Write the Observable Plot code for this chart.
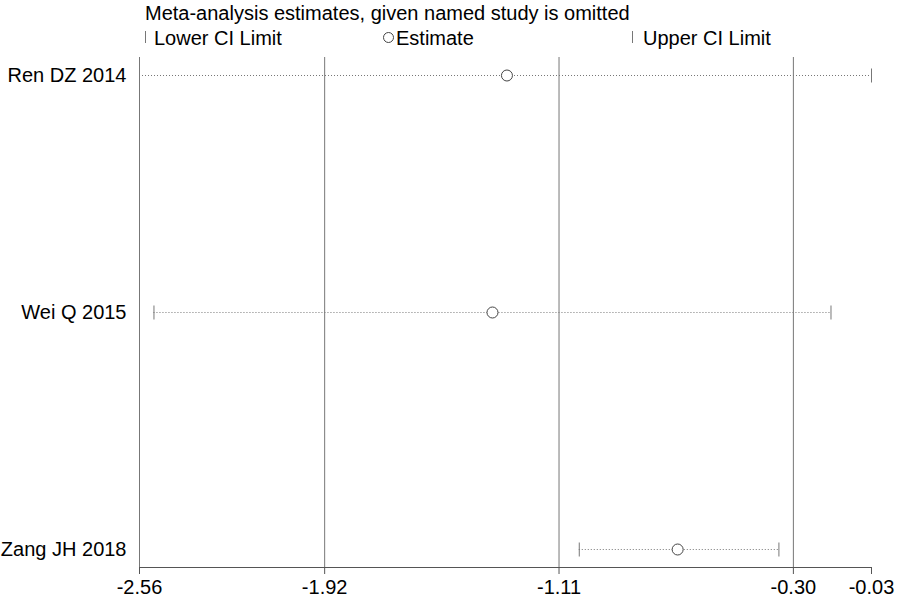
<!DOCTYPE html>
<html>
<head>
<meta charset="utf-8">
<script src="https://cdn.jsdelivr.net/npm/d3@7"></script>
<script src="https://cdn.jsdelivr.net/npm/@observablehq/plot@0.6"></script>
<style>
  body { margin: 0; background: white; font-family: "Liberation Sans", Arial, sans-serif; }
  #wrap { width: 899px; }
  #head { position: relative; height: 52px; font-size: 20px; color: #000; }
  #head div { position: absolute; white-space: nowrap; line-height: 1; }
  .bar { width: 0; border-left: 1px solid #777; height: 12px; }
  .circ { width: 9px; height: 9px; border: 1px solid #444; border-radius: 50%; }
  svg { display: block; }
</style>
</head>
<body>
<div id="wrap">
  <div id="head">
    <div style="left:145px; top:3px;">Meta-analysis estimates, given named study is omitted</div>
    <div class="bar" style="left:145px; top:31px;"></div>
    <div style="left:154px; top:28px;">Lower CI Limit</div>
    <div class="circ" style="left:383px; top:32px;"></div>
    <div style="left:396px; top:28px;">Estimate</div>
    <div class="bar" style="left:632px; top:31px;"></div>
    <div style="left:643px; top:28px;">Upper CI Limit</div>
  </div>
  <div id="chart"></div>
</div>
<script>
const studies = ["Ren DZ 2014", "Wei Q 2015", "Zang JH 2018"];
const estimate = [-1.29, -1.34, -0.70];
const lowerCI = [-2.56, -2.51, -1.04];
const upperCI = [-0.03, -0.17, -0.35];
const xTicks = [-2.56, -1.92, -1.11, -0.30, -0.03];
const gridLines = [-2.56, -1.92, -1.11, -0.30];

const rows = studies.map((s, i) => ({study: s, est: estimate[i], lower: lowerCI[i], upper: upperCI[i]}));
const ends = rows.flatMap(d => [{study: d.study, x: d.lower}, {study: d.study, x: d.upper}]);

const vbar = {
  draw(ctx, size) {
    const r = Math.sqrt(size / Math.PI);
    ctx.moveTo(0, -r);
    ctx.lineTo(0, r);
  }
};

const chart = Plot.plot({
  width: 899,
  height: 545,
  marginLeft: 139,
  marginRight: 28,
  marginTop: 5,
  marginBottom: 30,
  style: {fontFamily: "'Liberation Sans', Arial, sans-serif", background: "white", color: "black"},
  x: {domain: [-2.56, -0.03]},
  y: {type: "point", domain: studies, range: [23, 497], padding: 0},
  marks: [
    Plot.ruleX(gridLines, {stroke: "#777", strokeWidth: 1}),
    Plot.frame({anchor: "bottom", stroke: "#555"}),
    Plot.axisX(xTicks, {tickSize: 7, tickPadding: 5, tickFormat: d => d.toFixed(2), fontSize: 20, stroke: "#555", fill: "black", label: null}),
    Plot.axisY({tickSize: 0, tickPadding: 13, fontSize: 20, fill: "black", label: null}),
    Plot.ruleY(rows, {y: "study", x1: "lower", x2: "upper", stroke: "#777", strokeDasharray: "1,2"}),
    Plot.dot(ends, {x: "x", y: "study", symbol: vbar, r: 7, stroke: "#777", strokeWidth: 1}),
    Plot.dot(rows, {x: "est", y: "study", r: 5.5, stroke: "#444", fill: "white", strokeWidth: 1})
  ]
});
document.getElementById("chart").appendChild(chart);
</script>
</body>
</html>
